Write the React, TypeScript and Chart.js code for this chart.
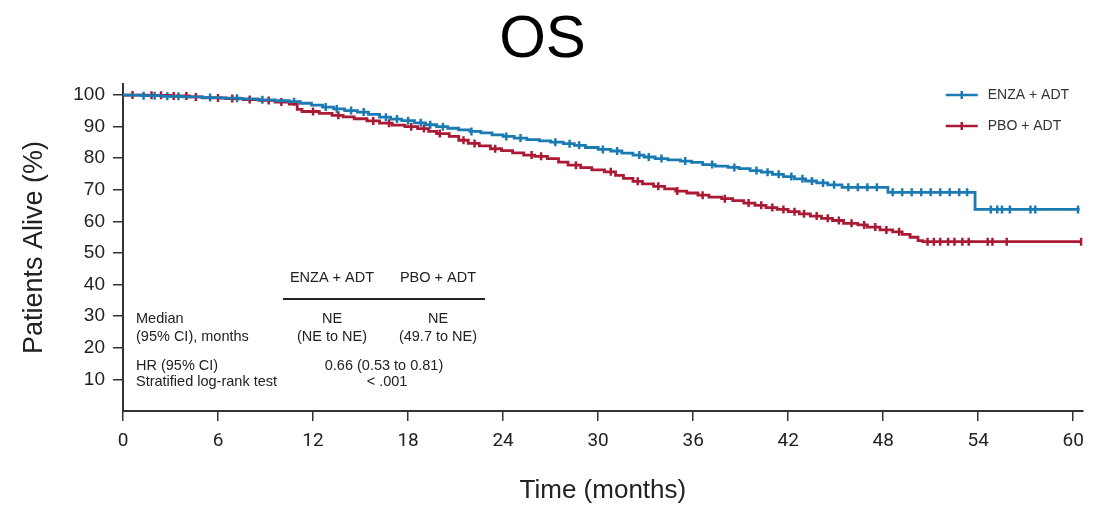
import { useEffect, useRef } from 'react';
import { Chart, registerables } from 'chart.js';

Chart.register(...registerables);

const TITLE = 'OS';
const X_TITLE = 'Time (months)';
const Y_TITLE = 'Patients Alive (%)';
const xTicks = [0, 6, 12, 18, 24, 30, 36, 42, 48, 54, 60];
const yTicks = [10, 20, 30, 40, 50, 60, 70, 80, 90, 100];
const seriesNames = ['ENZA + ADT', 'PBO + ADT'];
const seriesColors = ['#1a7ab2', '#ab1a34'];

const enzaTimes = [0, 1.2, 2.5, 3.8, 5.0, 6.2, 7.4, 8.5, 9.6, 10.5, 11.2, 11.9, 12.6, 13.3, 14.0, 14.8, 15.5, 16.2, 16.9, 17.6, 18.4, 19.1, 19.8, 20.5, 21.2, 21.9, 22.6, 23.3, 24.0, 24.7, 25.5, 26.3, 27.0, 27.8, 28.5, 29.2, 30.0, 30.8, 31.5, 32.2, 32.9, 33.6, 34.4, 35.2, 35.9, 36.6, 37.4, 38.2, 38.9, 39.6, 40.3, 41.0, 41.7, 42.4, 43.1, 43.8, 44.5, 45.4, 48.3, 53.8, 60.4];
const enzaSurv = [100, 99.8, 99.6, 99.4, 99.2, 99.0, 98.8, 98.5, 98.2, 97.9, 97.4, 96.8, 96.2, 95.6, 95.1, 94.6, 93.9, 93.0, 92.4, 91.9, 91.2, 90.6, 90.0, 89.5, 89.0, 88.5, 88.0, 87.4, 86.9, 86.4, 85.9, 85.5, 85.1, 84.6, 84.1, 83.4, 82.8, 82.3, 81.6, 81.0, 80.4, 79.9, 79.5, 79.1, 78.7, 78.0, 77.5, 77.1, 76.7, 76.1, 75.6, 74.9, 74.2, 73.5, 72.8, 72.2, 71.6, 70.8, 69.2, 63.8, 63.8];
const enzaCensor = [1.3, 2.0, 2.8, 3.5, 5.5, 7.2, 8.8, 10.8, 12.8, 13.5, 14.4, 15.2, 16.6, 17.3, 18.0, 18.8, 19.4, 20.2, 22.0, 24.2, 25.1, 27.3, 28.2, 28.8, 30.3, 31.2, 32.6, 33.2, 34.0, 35.5, 37.2, 38.6, 40.0, 40.7, 41.4, 42.2, 42.9, 43.5, 44.2, 44.9, 45.8, 46.4, 47.0, 47.6, 48.6, 49.2, 49.8, 50.4, 51.0, 51.6, 52.2, 52.8, 53.3, 54.8, 55.2, 55.5, 56.0, 57.3, 57.6, 60.3];

const pboTimes = [0, 1.5, 3.0, 4.2, 5.0, 6.5, 7.6, 8.6, 9.6, 10.5, 11.0, 11.3, 12.4, 13.2, 13.9, 14.6, 15.4, 16.2, 17.0, 17.8, 18.6, 19.3, 19.8, 20.6, 21.2, 21.8, 22.5, 23.2, 23.9, 24.6, 25.3, 26.0, 26.8, 27.5, 28.1, 28.9, 29.6, 30.4, 31.1, 31.6, 32.2, 32.8, 33.5, 34.2, 34.9, 35.6, 36.3, 37.0, 37.8, 38.5, 39.2, 39.9, 40.6, 41.3, 42.0, 42.7, 43.4, 44.1, 44.8, 45.5, 46.4, 47.0, 47.8, 48.6, 49.2, 49.7, 50.2, 50.5, 60.5];
const pboSurv = [100, 99.9, 99.7, 99.4, 99.1, 98.9, 98.6, 98.3, 97.8, 97.1, 95.5, 94.8, 94.2, 93.6, 93.1, 92.5, 91.8, 91.1, 90.5, 90.0, 89.4, 88.5, 87.8, 86.9, 85.7, 84.7, 83.9, 83.0, 82.4, 81.7, 81.0, 80.6, 79.9, 78.8, 77.8, 77.0, 76.3, 75.7, 74.6, 73.6, 72.7, 71.9, 71.1, 70.3, 69.6, 69.0, 68.3, 67.7, 67.2, 66.6, 65.8, 65.1, 64.4, 63.8, 63.1, 62.4, 61.7, 61.0, 60.3, 59.4, 58.9, 58.2, 57.3, 56.7, 55.9, 55.0, 53.9, 53.6, 53.6];
const pboCensor = [0.6, 1.8, 2.4, 3.2, 4.0, 4.6, 6.0, 6.9, 8.0, 9.2, 10.0, 12.0, 13.6, 15.8, 16.8, 18.2, 19.0, 20.0, 21.5, 22.2, 23.5, 25.8, 26.4, 28.6, 30.8, 32.5, 33.8, 35.0, 36.6, 38.0, 39.5, 40.3, 41.0, 41.7, 42.4, 43.0, 43.8, 44.5, 45.2, 46.0, 46.8, 47.5, 48.2, 49.0, 50.8, 51.2, 51.6, 52.1, 52.5, 53.0, 53.4, 54.6, 54.9, 55.8, 60.5];

const tableHeader = ['ENZA + ADT', 'PBO + ADT'];
const medianLabel = ['Median', '(95% CI), months'];
const medianEnza = ['NE', '(NE to NE)'];
const medianPbo = ['NE', '(49.7 to NE)'];
const hrLabel = ['HR (95% CI)', 'Stratified log-rank test'];
const hrValues = ['0.66 (0.53 to 0.81)', '< .001'];

const FONT = '"Liberation Sans", Arial, sans-serif';
const TICKFONT = 'Roboto, "Liberation Sans", sans-serif';

function stepValue(times: number[], surv: number[], t: number) {
  let v = surv[0];
  for (let i = 0; i < times.length; i++) {
    if (times[i] <= t) v = surv[i];
  }
  return v;
}

const legendPlugin = {
  id: 'kmLegend',
  afterDraw(chart: any) {
    const { ctx, chartArea } = chart;
    ctx.save();
    seriesNames.forEach((name, i) => {
      const y = chartArea.top + 11 + i * 31;
      const x0 = chartArea.right - 137;
      const x1 = chartArea.right - 105;
      ctx.strokeStyle = seriesColors[i];
      ctx.lineWidth = 2.5;
      ctx.beginPath();
      ctx.moveTo(x0, y);
      ctx.lineTo(x1, y);
      ctx.stroke();
      ctx.lineWidth = 2.5;
      ctx.beginPath();
      ctx.moveTo((x0 + x1) / 2, y - 4);
      ctx.lineTo((x0 + x1) / 2, y + 4);
      ctx.stroke();
      ctx.fillStyle = '#333';
      ctx.font = `14px ${FONT}`;
      ctx.textAlign = 'left';
      ctx.textBaseline = 'middle';
      ctx.fillText(name, chartArea.right - 95, y);
    });
    ctx.restore();
  },
};

const tablePlugin = {
  id: 'kmTable',
  afterDraw(chart: any) {
    const { ctx, chartArea } = chart;
    const L = chartArea.left;
    const T = chartArea.top;
    const c1 = L + 209;
    const c2 = L + 315;
    const cHR = L + 261;
    ctx.save();
    ctx.fillStyle = '#222';
    ctx.font = `14.5px ${FONT}`;
    ctx.textBaseline = 'middle';
    ctx.textAlign = 'center';
    ctx.fillText(tableHeader[0], c1, T + 194);
    ctx.fillText(tableHeader[1], c2, T + 194);
    ctx.strokeStyle = '#222';
    ctx.lineWidth = 2;
    ctx.beginPath();
    ctx.moveTo(L + 160, T + 215);
    ctx.lineTo(L + 362, T + 215);
    ctx.stroke();
    const rowsY = [T + 235, T + 253, T + 282, T + 298];
    ctx.textAlign = 'left';
    ctx.fillText(medianLabel[0], L + 13, rowsY[0]);
    ctx.fillText(medianLabel[1], L + 13, rowsY[1]);
    ctx.fillText(hrLabel[0], L + 13, rowsY[2]);
    ctx.fillText(hrLabel[1], L + 13, rowsY[3]);
    ctx.textAlign = 'center';
    ctx.fillText(medianEnza[0], c1, rowsY[0]);
    ctx.fillText(medianEnza[1], c1, rowsY[1]);
    ctx.fillText(medianPbo[0], c2, rowsY[0]);
    ctx.fillText(medianPbo[1], c2, rowsY[1]);
    ctx.fillText(hrValues[0], cHR, rowsY[2]);
    ctx.fillText(hrValues[1], cHR + 3, rowsY[3]);
    ctx.restore();
  },
};

export default function App() {
  const ref = useRef<HTMLCanvasElement>(null);

  useEffect(() => {
    if (!ref.current) return;
    const curve = (times: number[], surv: number[]) => times.map((t, i) => ({ x: t, y: surv[i] }));
    const censor = (cs: number[], times: number[], surv: number[]) =>
      cs.map((t) => ({ x: t, y: stepValue(times, surv, t) }));

    const chart = new Chart(ref.current, {
      type: 'line',
      data: {
        datasets: [
          {
            label: seriesNames[0],
            data: curve(enzaTimes, enzaSurv),
            borderColor: seriesColors[0],
            backgroundColor: seriesColors[0],
            borderWidth: 2.8,
            stepped: 'before',
            pointRadius: 0,
            fill: false,
          },
          {
            label: seriesNames[1],
            data: curve(pboTimes, pboSurv),
            borderColor: seriesColors[1],
            backgroundColor: seriesColors[1],
            borderWidth: 2.8,
            stepped: 'before',
            pointRadius: 0,
            fill: false,
          },
          {
            label: seriesNames[0] + ' censored',
            data: censor(enzaCensor, enzaTimes, enzaSurv),
            borderColor: seriesColors[0],
            backgroundColor: seriesColors[0],
            showLine: false,
            pointStyle: 'line',
            rotation: 90,
            pointRadius: 4,
            pointBorderWidth: 2.5,
          },
          {
            label: seriesNames[1] + ' censored',
            data: censor(pboCensor, pboTimes, pboSurv),
            borderColor: seriesColors[1],
            backgroundColor: seriesColors[1],
            showLine: false,
            pointStyle: 'line',
            rotation: 90,
            pointRadius: 4,
            pointBorderWidth: 2.5,
          },
        ],
      },
      options: {
        animation: false,
        responsive: false,
        layout: { padding: { left: 0, right: 8, top: 0, bottom: 0 } },
        plugins: {
          legend: { display: false },
          tooltip: { enabled: false },
          title: {
            display: true,
            text: TITLE,
            color: '#000',
            font: { family: FONT, size: 60, weight: 'normal', lineHeight: 1.2 },
            padding: { top: 4, bottom: 8 },
          },
        },
        scales: {
          x: {
            type: 'linear',
            min: 0,
            max: 60.6,
            afterFit: (s: any) => { s.height = 95; },
            afterBuildTicks: (s: any) => { s.ticks = xTicks.map((v) => ({ value: v })); },
            ticks: {
              color: '#222',
              font: { family: TICKFONT, size: 19 },
              padding: 9,
              maxRotation: 0,
              autoSkip: false,
            },
            grid: { display: true, drawOnChartArea: false, drawTicks: true, tickLength: 10, color: '#333', lineWidth: 1.5 },
            border: { display: true, color: '#333', width: 2 },
            title: {
              display: true,
              text: X_TITLE,
              color: '#222',
              font: { family: FONT, size: 26, lineHeight: 1.2 },
              padding: { top: 0, bottom: 0 },
            },
          },
          y: {
            type: 'linear',
            min: 0,
            max: 103.5,
            afterFit: (s: any) => { s.width = 123; },
            afterBuildTicks: (s: any) => { s.ticks = yTicks.map((v) => ({ value: v })); },
            ticks: {
              color: '#222',
              font: { family: FONT, size: 19 },
              padding: 8,
              autoSkip: false,
            },
            grid: { display: true, drawOnChartArea: false, drawTicks: true, tickLength: 10, color: '#333', lineWidth: 1.5 },
            border: { display: true, color: '#333', width: 2 },
            title: {
              display: true,
              text: Y_TITLE,
              color: '#222',
              font: { family: FONT, size: 27, lineHeight: 1.2 },
              padding: { top: 18, bottom: 0 },
            },
          },
        },
      },
      plugins: [legendPlugin, tablePlugin],
    } as any);

    return () => chart.destroy();
  }, []);

  return (
    <div style={{ position: 'fixed', left: 0, top: 0, width: 1093, height: 506, background: '#fff' }}>
      <canvas ref={ref} width={1093} height={506} style={{ display: 'block' }} />
    </div>
  );
}
